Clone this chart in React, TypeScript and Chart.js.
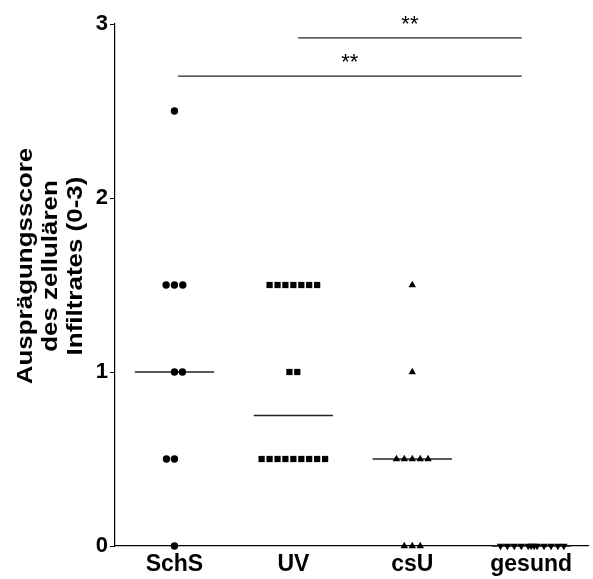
import React, { useEffect, useRef } from 'react';
import { Chart, registerables } from 'chart.js';
Chart.register(...registerables);

const categories = ['SchS', 'UV', 'csU', 'gesund'];
const yTicks = [0, 1, 2, 3];
const titleLines = ['Ausprägungsscore', 'des zellulären', 'Infiltrates (0-3)'];

const schsValues = [2.5, 1.5, 1.5, 1.5, 1, 1, 0.5, 0.5, 0];
const schsJitter = [0, -0.07, 0, 0.07, 0, 0.067, -0.067, 0, 0];

const uvValues = [1.5, 1.5, 1.5, 1.5, 1.5, 1.5, 1.5, 1, 1, 0.5, 0.5, 0.5, 0.5, 0.5, 0.5, 0.5, 0.5, 0.5];
const uvJitter = [-0.2, -0.133, -0.067, 0, 0.067, 0.133, 0.2, -0.033, 0.033, -0.267, -0.2, -0.133, -0.067, 0, 0.067, 0.133, 0.2, 0.267];

const csuValues = [1.5, 1, 0.5, 0.5, 0.5, 0.5, 0.5, 0, 0, 0];
const csuJitter = [0, 0, -0.133, -0.067, 0, 0.067, 0.133, -0.067, 0, 0.067];

const gesundValues = [0, 0, 0, 0, 0, 0, 0, 0, 0, 0, 0, 0];
const gesundJitter = [-0.258, -0.2, -0.142, -0.083, -0.025, 0, 0.025, 0.05, 0.108, 0.167, 0.225, 0.275];

const medians = [1, 0.75, 0.5, 0];
const medianHalfWidth = 0.333;

const sigStart = [1.04, 0.03];
const sigEnd = [2.92, 2.92];
const sigLevel = [2.92, 2.7];
const sigLabels = ['**', '**'];

const FONT = '"Liberation Sans", Arial, sans-serif';

function pts(group: number, values: number[], jitter: number[]) {
  return values.map((v, i) => ({ x: group + jitter[i], y: v }));
}

export default function App() {
  const ref = useRef<HTMLCanvasElement>(null);
  useEffect(() => {
    const groups = [
      { values: schsValues, jitter: schsJitter, style: 'circle', radius: 3.7, rotation: 0 },
      { values: uvValues, jitter: uvJitter, style: 'rect', radius: 4.4, rotation: 0 },
      { values: csuValues, jitter: csuJitter, style: 'triangle', radius: 4.3, rotation: 0 },
      { values: gesundValues, jitter: gesundJitter, style: 'triangle', radius: 4.3, rotation: 180 },
    ];
    const datasets: any[] = groups.map((g, gi) => ({
      type: 'scatter',
      label: categories[gi],
      data: pts(gi, g.values, g.jitter),
      pointStyle: g.style,
      pointRadius: g.radius,
      pointRotation: g.rotation,
      backgroundColor: '#000',
      borderColor: '#000',
      borderWidth: 0,
      clip: false,
    }));
    medians.forEach((m, i) => {
      datasets.push({
        type: 'line',
        label: 'median ' + categories[i],
        data: [{ x: i - medianHalfWidth, y: m }, { x: i + medianHalfWidth, y: m }],
        borderColor: '#222',
        borderWidth: 1.5,
        pointRadius: 0,
        clip: false,
      });
    });
    sigLevel.forEach((lv, i) => {
      datasets.push({
        type: 'line',
        label: 'sig ' + i,
        data: [{ x: sigStart[i], y: lv }, { x: sigEnd[i], y: lv }],
        borderColor: '#222',
        borderWidth: 1.3,
        pointRadius: 0,
        clip: false,
      });
    });

    const overlay = {
      id: 'overlay',
      afterDraw(chart: any) {
        const { ctx, scales } = chart;
        const xs = scales.x, ys = scales.y;
        ctx.save();
        ctx.fillStyle = '#000';
        ctx.font = '22px ' + FONT;
        ctx.textAlign = 'center';
        ctx.textBaseline = 'alphabetic';
        sigLabels.forEach((lab, i) => {
          const cx = (xs.getPixelForValue(sigStart[i]) + xs.getPixelForValue(sigEnd[i])) / 2;
          const cy = ys.getPixelForValue(sigLevel[i]);
          ctx.fillText(lab, cx, cy - 7);
        });
        ctx.restore();

        ctx.save();
        ctx.fillStyle = '#000';
        ctx.font = 'bold 22px ' + FONT;
        ctx.textAlign = 'center';
        ctx.textBaseline = 'middle';
        const cy = 266;
        titleLines.forEach((t, i) => {
          ctx.save();
          ctx.translate(26 + i * 25, cy);
          ctx.rotate(-Math.PI / 2);
          ctx.scale(1.18, 1);
          ctx.fillText(t, 0, 0);
          ctx.restore();
        });
        ctx.restore();
      },
    };

    const chart = new Chart(ref.current!, {
      type: 'scatter',
      data: { datasets },
      options: {
        animation: false,
        responsive: false,
        layout: { padding: { top: 24, left: 0, right: 0, bottom: 0 } },
        plugins: { legend: { display: false }, tooltip: { enabled: false }, title: { display: false } },
        scales: {
          x: {
            type: 'linear',
            min: -0.5,
            max: 3.483,
            afterFit: (s: any) => { s.height = 33; },
            afterBuildTicks: (s: any) => { s.ticks = categories.map((_, i) => ({ value: i })); },
            grid: { display: true, drawOnChartArea: false, drawTicks: false },
            border: { display: true, color: '#000', width: 1.3 },
            ticks: {
              autoSkip: false,
              maxRotation: 0,
              padding: 5,
              color: '#000',
              font: { family: FONT, size: 23, weight: 'bold' },
              callback: (v: any) => categories[v as number] ?? '',
            },
          },
          y: {
            type: 'linear',
            min: 0,
            max: 3,
            afterFit: (s: any) => { s.width = 115; },
            afterBuildTicks: (s: any) => { s.ticks = yTicks.map((v) => ({ value: v })); },
            grid: { display: true, drawOnChartArea: false, drawTicks: true, tickLength: 5, color: '#000' },
            border: { display: true, color: '#000', width: 1.2 },
            ticks: {
              padding: 2,
              color: '#000',
              font: { family: FONT, size: 22, weight: 'bold' },
            },
          },
        },
      },
      plugins: [overlay],
    } as any);
    return () => chart.destroy();
  }, []);
  return (
    <div style={{ position: 'fixed', left: 0, top: 0, width: 593, height: 579, background: '#fff' }}>
      <canvas ref={ref} width={593} height={579} style={{ width: 593, height: 579 }} />
    </div>
  );
}
